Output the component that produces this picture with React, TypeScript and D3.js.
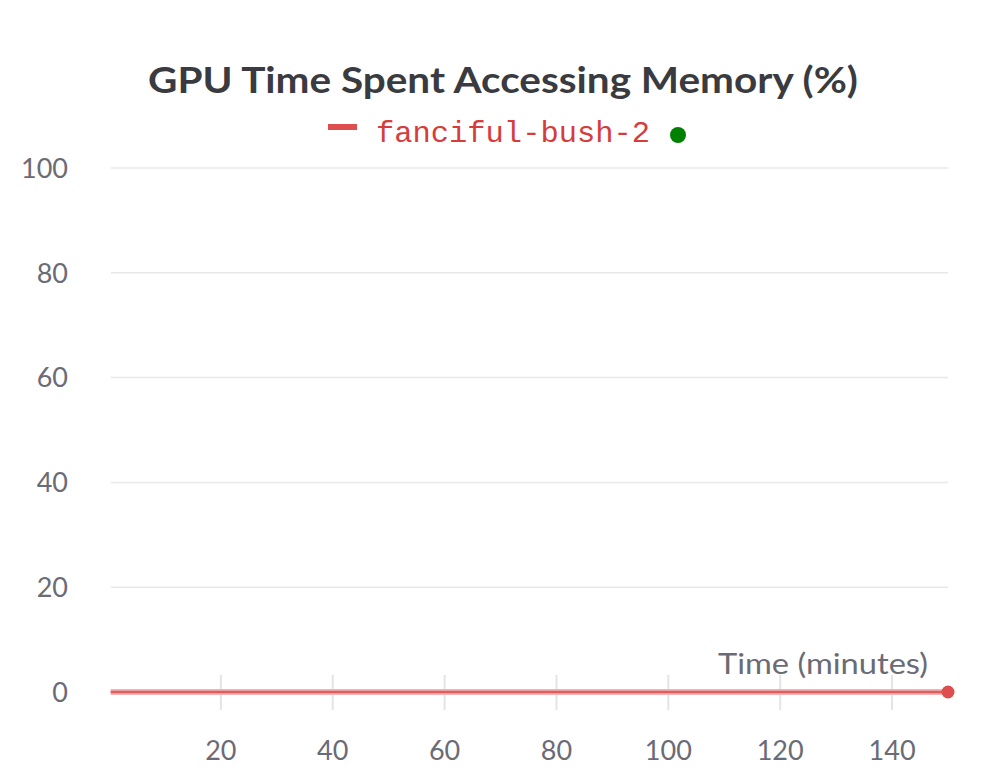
import React from "react";
import * as d3 from "d3";

const title = "GPU Time Spent Accessing Memory (%)";
const runName = "fanciful-bush-2";
const xTicks = [20, 40, 60, 80, 100, 120, 140];
const yTicks = [0, 20, 40, 60, 80, 100];
const times = [0.3, 10, 20, 30, 40, 50, 60, 70, 80, 90, 100, 110, 120, 130, 140, 150];
const values = [0, 0, 0, 0, 0, 0, 0, 0, 0, 0, 0, 0, 0, 0, 0, 0];

const W = 1008;
const H = 783;
const sans = "Lato, 'Open Sans', sans-serif";

export default function App() {
  const x = d3.scaleLinear().domain([0, 150]).range([109, 948]);
  const y = d3.scaleLinear().domain([0, 100]).range([692, 168]);
  const pts = times.map((t, i) => [t, values[i]] as [number, number]);
  const line = d3
    .line<[number, number]>()
    .x(d => x(d[0]))
    .y(d => y(d[1]));
  const last = pts[pts.length - 1];

  return (
    <svg width={W} height={H} style={{ position: "absolute", left: 0, top: 0, background: "#fff" }}>
      <text x={148} y={93} textLength={710} lengthAdjust="spacingAndGlyphs" fontFamily={sans} fontWeight="bold" fontSize={36} fill="#3a3b40">
        {title}
      </text>
      <line x1={328} x2={357} y1={127} y2={127} stroke="#df4e4e" strokeWidth={6} />
      <text x={376} y={142} textLength={274} lengthAdjust="spacingAndGlyphs" fontFamily="'Liberation Mono', 'DejaVu Sans Mono', monospace" fontSize={30} fill="#d63c3c">
        {runName}
      </text>
      <circle cx={678} cy={135} r={8} fill="#008000" />

      {yTicks.map(t => (
        <g key={`y${t}`}>
          {t > 0 && <line x1={111} x2={948} y1={y(t)} y2={y(t)} stroke="#e8e8e8" strokeWidth={1.5} />}
          <text x={68} y={y(t)} dy="0.36em" textAnchor="end" fontFamily={sans} fontSize={27} fill="#6b6b76">
            {t}
          </text>
        </g>
      ))}
      {xTicks.map(t => (
        <g key={`x${t}`}>
          <line x1={x(t)} x2={x(t)} y1={675} y2={710} stroke="#e4e4e4" strokeWidth={2} />
          <text x={x(t)} y={760} textAnchor="middle" fontFamily={sans} fontSize={27} fill="#6b6b76">
            {t}
          </text>
        </g>
      ))}
      <text x={718} y={674} textLength={210} lengthAdjust="spacingAndGlyphs" fontFamily={sans} fontSize={28} fill="#6b6b76">
        Time (minutes)
      </text>

      <path d={line(pts) ?? ""} fill="none" stroke="#f0b4b4" strokeWidth={6} />
      <path d={line(pts) ?? ""} fill="none" stroke="#df5f5f" strokeWidth={2.5} />
      <circle cx={x(last[0])} cy={y(last[1])} r={6.5} fill="#df4e4e" />
    </svg>
  );
}
